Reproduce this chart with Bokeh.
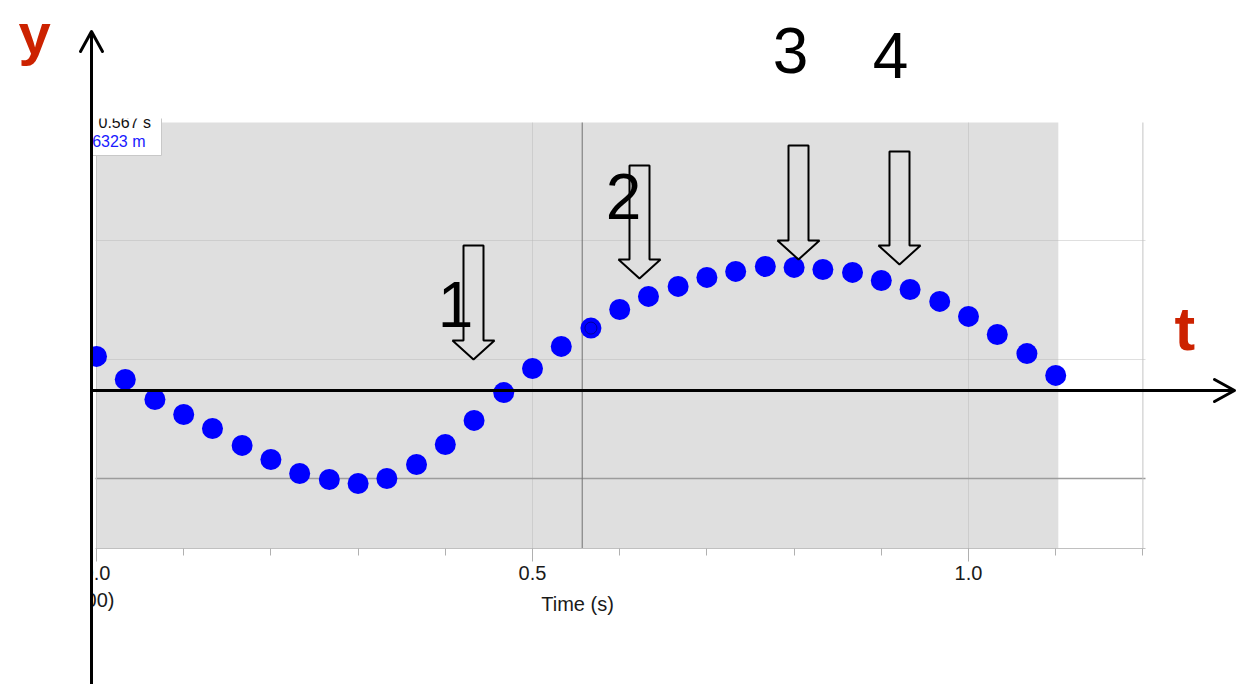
from bokeh.plotting import figure
from bokeh.models import Range1d, FixedTicker, NumeralTickFormatter
from bokeh.core.properties import value
from bokeh.embed import file_html
from bokeh.resources import INLINE

# ---------------- data ----------------
time_s = [0.000, 0.033, 0.067, 0.100, 0.133, 0.167, 0.200, 0.233, 0.267, 0.300,
          0.333, 0.367, 0.400, 0.433, 0.467, 0.500, 0.533, 0.567, 0.600, 0.633,
          0.667, 0.700, 0.733, 0.767, 0.800, 0.833, 0.867, 0.900, 0.933, 0.967,
          1.000, 1.033, 1.067, 1.100]
position_m = [0.0513, 0.0416, 0.0332, 0.0269, 0.0210, 0.0139, 0.0080, 0.0021, -0.0004, -0.0021,
              0.0000, 0.0059, 0.0143, 0.0244, 0.0361, 0.0462, 0.0555, 0.0632, 0.0710, 0.0765,
              0.0807, 0.0845, 0.0870, 0.0891, 0.0887, 0.0878, 0.0866, 0.0832, 0.0794, 0.0744,
              0.0681, 0.0605, 0.0525, 0.0433]
cursor_index = 17
cursor_time = 0.557
x_major_ticks = [0.0, 0.5, 1.0]
x_minor_ticks = [0.0, 0.1, 0.2, 0.3, 0.4, 0.5, 0.6, 0.7, 0.8, 0.9, 1.0, 1.1, 1.2]
x_grid_ticks = [0.5, 1.0]
y_grid_ticks = [0.05, 0.10]
x_axis_title = "Time (s)"
examine_time_text = "0.567 s"
examine_pos_text = "0.06323 m"
cropped_caption = "(0.00)"
arrow_numbers = ["1", "2", "3", "4"]
y_letter = "y"
t_letter = "t"

W, H = 1237, 684


# reference-pixel -> data helpers (layout only)
def xd(px):
    return (px - 96) / 872.0


def yd(py):
    return (478 - py) / 2380.0


def ty(py, fs):
    # place a text so that its alphabetic baseline lands on reference pixel row py
    return yd(py - 0.38 * fs)


# Logger Pro frame (data) limits
lp_left, lp_right = xd(95), xd(1145)
lp_bottom, lp_top = yd(548), yd(122)

p = figure(width=W, height=H, output_backend="svg", toolbar_location=None,
           x_range=Range1d(xd(0), xd(W)), y_range=Range1d(yd(H), yd(0)),
           y_axis_location=None, min_border=0,
           min_border_left=0, min_border_right=0, min_border_top=0, min_border_bottom=0,
           background_fill_color="white", border_fill_color="white",
           outline_line_color=None)
p.grid.visible = False

# shaded data-collection region
p.quad(left=min(time_s), right=max(time_s) + 0.003, bottom=lp_bottom, top=lp_top,
       fill_color="#dfdfdf", line_color=None, level="image")

# grid lines (confined to the Logger Pro frame)
n = len(x_grid_ticks)
p.segment(x0=x_grid_ticks, x1=x_grid_ticks, y0=[lp_bottom] * n, y1=[lp_top] * n,
          line_color="#b8b8b8", line_alpha=0.45, line_width=1, level="underlay")
m = len(y_grid_ticks)
p.segment(x0=[lp_left] * m, x1=[lp_right] * m, y0=y_grid_ticks, y1=y_grid_ticks,
          line_color="#b8b8b8", line_alpha=0.45, line_width=1, level="underlay")
p.segment(x0=[lp_left], x1=[lp_right], y0=[0], y1=[0],
          line_color="#9c9c9c", line_width=1.5, level="underlay")
p.segment(x0=[1.2, 0.0], x1=[1.2, 0.0], y0=[lp_bottom] * 2, y1=[lp_top] * 2,
          line_color="#c4c4c4", line_width=1, level="underlay")
p.segment(x0=[cursor_time], x1=[cursor_time], y0=[lp_bottom], y1=[lp_top],
          line_color="#707070", line_width=1, level="underlay")

# x axis (drawn at the bottom edge of the Logger Pro frame)
ax = p.xaxis[0]
ax.fixed_location = lp_bottom
ax.bounds = (lp_left, lp_right)
ax.ticker = FixedTicker(ticks=x_major_ticks, minor_ticks=x_minor_ticks)
ax.formatter = NumeralTickFormatter(format="0.0")
ax.axis_line_color = "#c0c0c0"
ax.major_tick_line_color = "#b0b0b0"
ax.minor_tick_line_color = "#b0b0b0"
ax.major_tick_out = 13
ax.major_tick_in = 0
ax.minor_tick_out = 7
ax.minor_tick_in = 0
ax.major_label_standoff = 4
ax.major_label_text_font = "Liberation Sans"
ax.major_label_text_font_size = "20px"
ax.major_label_text_color = "#1a1a1a"

# data points
p.scatter(time_s, position_m, size=21, fill_color="#0000ff", line_color=None)
p.scatter([time_s[cursor_index]], [position_m[cursor_index]], size=12,
          fill_color=None, line_color="#000055", line_alpha=0.6, line_width=1)

# hollow block arrows (tip x, tip y, shaft top) in reference pixels
arrow_specs = [(473, 359, 245), (639, 278, 165), (798, 259, 145), (899, 264, 151)]
xs, ys = [], []
for tx, tyy, top in arrow_specs:
    sw, hw, hl = 10, 21, 19
    pts = [(tx - sw, top), (tx + sw, top), (tx + sw, tyy - hl), (tx + hw, tyy - hl),
           (tx, tyy), (tx - hw, tyy - hl), (tx - sw, tyy - hl)]
    xs.append([xd(a) for a, b in pts])
    ys.append([yd(b) for a, b in pts])
p.patches(xs, ys, fill_color=None, line_color="black", line_width=2)

# examine box
p.quad(left=xd(86), right=xd(161), top=yd(112), bottom=yd(155),
       fill_color="white", line_color="#c8c8c8", line_width=1)
p.text(x=[xd(98)], y=[ty(128, 16)], text=[examine_time_text], text_align="left",
       text_baseline="alphabetic", text_font=value("Liberation Sans"),
       text_font_size="16px", text_color="#111111")
p.text(x=[xd(145)], y=[ty(147, 16)], text=[examine_pos_text], text_align="right",
       text_baseline="alphabetic", text_font=value("Liberation Sans"),
       text_font_size="16px", text_color="#1a1aff")

# axis title and cropped caption
p.text(x=[xd(577)], y=[ty(611, 20)], text=[x_axis_title], text_align="center",
       text_baseline="alphabetic", text_font=value("Liberation Sans"),
       text_font_size="20px", text_color="#1a1a1a")
p.text(x=[xd(114)], y=[ty(607, 20)], text=[cropped_caption], text_align="right",
       text_baseline="alphabetic", text_font=value("Liberation Sans"),
       text_font_size="20px", text_color="#1a1a1a")

# white masks (the cropped-off screenshot edges)
p.quad(left=[xd(-5)], right=[xd(89.5)], bottom=[yd(H + 5)], top=[yd(100)],
       fill_color="white", line_color=None, level="overlay")
p.quad(left=[xd(-5)], right=[xd(W + 5)], bottom=[yd(118)], top=[yd(-5)],
       fill_color="white", line_color=None, level="overlay")

# numbers above the arrows
num_pos = [(455, 328), (623, 220), (790, 74), (890, 79)]
p.text(x=[xd(a) for a, b in num_pos], y=[ty(b, 64) for a, b in num_pos], text=arrow_numbers,
       text_align="center", text_baseline="alphabetic",
       text_font=value("Liberation Sans"), text_font_size="64px",
       text_color="black", level="overlay")

# hand-drawn axes with open arrow heads
p.line([xd(91), xd(91)], [yd(H + 10), yd(32)], line_color="black", line_width=3,
       level="overlay")
p.line([xd(80), xd(91), xd(102)], [yd(51), yd(31), yd(51)], line_color="black",
       line_width=3, line_join="round", line_cap="round", level="overlay")
p.line([xd(91), xd(1233)], [yd(390), yd(390)], line_color="black", line_width=3,
       level="overlay")
p.line([xd(1214), xd(1234), xd(1214)], [yd(379), yd(390), yd(401)], line_color="black",
       line_width=3, line_join="round", line_cap="round", level="overlay")

# axis letters
p.text(x=[xd(18)], y=[ty(55, 58)], text=[y_letter],
       text_align="left", text_baseline="alphabetic",
       text_font=value("Liberation Sans"), text_font_style="bold",
       text_font_size="58px", text_color="#cc2200", level="overlay")
p.text(x=[xd(1174)], y=[ty(352, 62)], text=[t_letter],
       text_align="left", text_baseline="alphabetic",
       text_font=value("Liberation Sans"), text_font_style="bold",
       text_font_size="62px", text_color="#cc2200", level="overlay")

open("out.html", "w").write(file_html(p, INLINE))
